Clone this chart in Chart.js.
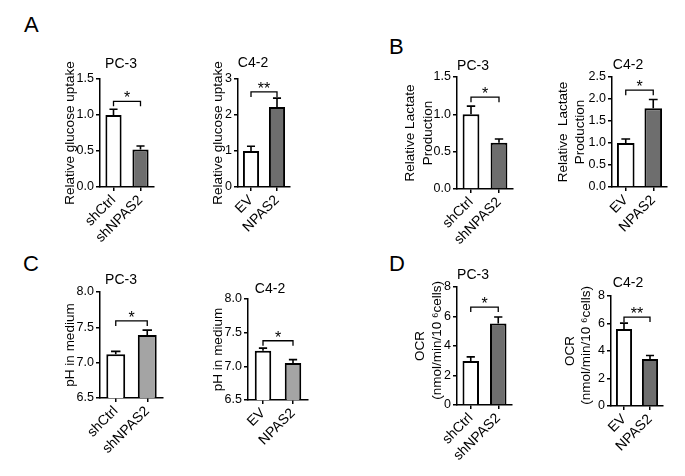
<!DOCTYPE html>
<html>
<head>
<title>NPAS2 metabolism panels</title>
<script src="https://cdn.jsdelivr.net/npm/chart.js"></script>
<style>
  body { margin: 0; background: #fff; width: 685px; height: 476px; position: relative; overflow: hidden;
         font-family: "Liberation Sans", Arial, sans-serif; }
  canvas { position: absolute; }
  .letter { position: absolute; font-size: 22px; line-height: 22px; color: #000; }
</style>
</head>
<body>
<div class="letter" style="left:24px;top:14px">A</div>
<div class="letter" style="left:389px;top:36px">B</div>
<div class="letter" style="left:23px;top:253px">C</div>
<div class="letter" style="left:389px;top:253px">D</div>
<script>
const pcGroups = ['shCtrl', 'shNPAS2'];
const c42Groups = ['EV', 'NPAS2'];

const glucosePC3 = [1.00, 0.52];
const glucosePC3Err = [0.08, 0.05];
const glucoseC42 = [1.00, 2.22];
const glucoseC42Err = [0.13, 0.25];
const lactatePC3 = [1.00, 0.62];
const lactatePC3Err = [0.11, 0.05];
const lactateC42 = [1.00, 1.79];
const lactateC42Err = [0.09, 0.20];
const phPC3 = [7.12, 7.39];
const phPC3Err = [0.04, 0.07];
const phC42 = [7.23, 7.05];
const phC42Err = [0.04, 0.05];
const ocrPC3 = [2.98, 5.52];
const ocrPC3Err = [0.28, 0.45];
const ocrC42 = [5.60, 3.42];
const ocrC42Err = [0.43, 0.25];

const ticksGlucosePC3 = ['0.0', '0.5', '1.0', '1.5'];
const ticksGlucoseC42 = ['0', '1', '2', '3'];
const ticksLactatePC3 = ['0.0', '0.5', '1.0', '1.5'];
const ticksLactateC42 = ['0.0', '0.5', '1.0', '1.5', '2.0', '2.5'];
const ticksPh = ['6.5', '7.0', '7.5', '8.0'];
const ticksOcr = ['0', '2', '4', '6', '8'];

// significance marks, panel order A1 A2 B1 B2 C1 C2 D1 D2
const sigStars = ['*', '**', '*', '*', '*', '*', '*', '**'];
const sigLevels = [1.19, 2.64, 1.23, 2.20, 7.59, 7.38, 6.64, 6.47];

const FONT = '"Liberation Sans", Arial, sans-serif';
const darkGray = '#6e6e6e';
const lightGray = '#a4a4a4';

const panels = [
  { labels: pcGroups, values: glucosePC3, errors: glucosePC3Err, ticks: ticksGlucosePC3, title: 'PC-3',
    yTitle: 'Relative glucose uptake', fill: darkGray,
    axisX: 100, axisEnd: 154, top: 79, bottom: 187, titleX: 121, titleY: 64, yTitleX: 70, lh: 16, barPct: 0.6 },
  { labels: c42Groups, values: glucoseC42, errors: glucoseC42Err, ticks: ticksGlucoseC42, title: 'C4-2',
    yTitle: 'Relative glucose uptake', fill: darkGray,
    axisX: 238, axisEnd: 290, top: 79, bottom: 187, titleX: 253, titleY: 63, yTitleX: 218, lh: 16, barPct: 0.62 },
  { labels: pcGroups, values: lactatePC3, errors: lactatePC3Err, ticks: ticksLactatePC3, title: 'PC-3',
    yTitle: ['Relative Lactate', 'Production'], fill: darkGray,
    axisX: 457, axisEnd: 513, top: 77, bottom: 189, titleX: 473, titleY: 66, yTitleX: 410, lh: 18, barPct: 0.6 },
  { labels: c42Groups, values: lactateC42, errors: lactateC42Err, ticks: ticksLactateC42, title: 'C4-2',
    yTitle: ['Relative  Lactate', 'Production'], fill: darkGray,
    axisX: 612, axisEnd: 667, top: 77, bottom: 187, titleX: 628, titleY: 65, yTitleX: 563, lh: 17, barPct: 0.64 },
  { labels: pcGroups, values: phPC3, errors: phPC3Err, ticks: ticksPh, title: 'PC-3',
    yTitle: 'pH in medium', fill: lightGray,
    axisX: 100, axisEnd: 163, top: 292, bottom: 398, titleX: 121, titleY: 280, yTitleX: 70, lh: 16, barPct: 0.6 },
  { labels: c42Groups, values: phC42, errors: phC42Err, ticks: ticksPh, title: 'C4-2',
    yTitle: 'pH in medium', fill: lightGray,
    axisX: 248, axisEnd: 308, top: 299, bottom: 400, titleX: 270, titleY: 289, yTitleX: 218, lh: 16, barPct: 0.55 },
  { labels: pcGroups, values: ocrPC3, errors: ocrPC3Err, ticks: ticksOcr, title: 'PC-3',
    yTitle: ['OCR', '   (nmol/min/10 \u2076cells)'], fill: darkGray,
    axisX: 457, axisEnd: 512, top: 287, bottom: 405, titleX: 473, titleY: 275, yTitleX: 420, lh: 17, barPct: 0.6 },
  { labels: c42Groups, values: ocrC42, errors: ocrC42Err, ticks: ticksOcr, title: 'C4-2',
    yTitle: ['OCR', '   (nmol/min/10 \u2076cells)'], fill: darkGray,
    axisX: 611, axisEnd: 663, top: 296, bottom: 406, titleX: 628, titleY: 283, yTitleX: 570, lh: 16, barPct: 0.62 }
];

// error bars (upper half only), significance bracket and small title
const extras = {
  id: 'panelExtras',
  afterDatasetsDraw(chart, args, o) {
    const ctx = chart.ctx;
    const y = chart.scales.y;
    const bars = chart.getDatasetMeta(0).data;
    ctx.save();
    ctx.strokeStyle = '#000';
    ctx.lineWidth = 1.6;
    bars.forEach((b, i) => {
      const yTop = y.getPixelForValue(o.values[i] + o.errors[i]);
      const cap = b.width * 0.25;
      ctx.beginPath();
      ctx.moveTo(b.x, b.y);
      ctx.lineTo(b.x, yTop);
      ctx.moveTo(b.x - cap, yTop);
      ctx.lineTo(b.x + cap, yTop);
      ctx.stroke();
    });
    const by = y.getPixelForValue(o.level);
    ctx.lineWidth = 1.3;
    ctx.beginPath();
    ctx.moveTo(bars[0].x, by + 5);
    ctx.lineTo(bars[0].x, by);
    ctx.lineTo(bars[1].x, by);
    ctx.lineTo(bars[1].x, by + 5);
    ctx.stroke();
    ctx.fillStyle = '#000';
    ctx.textAlign = 'center';
    ctx.textBaseline = 'alphabetic';
    ctx.font = '16px ' + FONT;
    ctx.fillText(o.stars, (bars[0].x + bars[1].x) / 2, by + 2);
    ctx.textBaseline = 'middle';
    ctx.font = '14px ' + FONT;
    ctx.fillText(o.title, o.tx, o.ty);
    ctx.restore();
  }
};

panels.forEach((p, i) => {
  const cv = document.createElement('canvas');
  const left = p.axisX - 70, top = p.top - 30;
  cv.width = p.axisEnd + 8 - left;
  cv.height = p.bottom - p.top + 90;
  cv.style.left = left + 'px';
  cv.style.top = top + 'px';
  document.body.appendChild(cv);
  const tickVals = p.ticks.map(Number);

  new Chart(cv, {
    type: 'bar',
    data: {
      labels: p.labels,
      datasets: [{
        data: p.values,
        backgroundColor: ['#ffffff', p.fill],
        borderColor: '#000',
        borderWidth: 2,
        barPercentage: p.barPct,
        categoryPercentage: 1
      }]
    },
    options: {
      responsive: false,
      animation: false,
      devicePixelRatio: 1,
      layout: { padding: { top: 30, right: 8, left: 0, bottom: 0 } },
      plugins: {
        legend: { display: false },
        tooltip: { enabled: false },
        panelExtras: {
          values: p.values, errors: p.errors, level: sigLevels[i], stars: sigStars[i],
          title: p.title, tx: p.titleX - left, ty: p.titleY - top
        }
      },
      scales: {
        x: {
          offset: true,
          grid: { display: true, offset: false, drawOnChartArea: false, tickLength: 4, color: '#000', lineWidth: 1.5 },
          border: { display: true, color: '#000', width: 1.5 },
          ticks: { color: '#000', font: { size: 14, family: FONT }, minRotation: 45, maxRotation: 45, autoSkip: false, padding: 1 },
          afterFit: s => { s.height = 60; }
        },
        y: {
          min: tickVals[0],
          max: tickVals[tickVals.length - 1],
          afterBuildTicks: s => { s.ticks = tickVals.map(v => ({ value: v })); },
          grid: { drawOnChartArea: false, tickLength: 4, color: '#000', lineWidth: 1.5 },
          border: { display: true, color: '#000', width: 1.5 },
          ticks: { color: '#000', font: { size: 12.5, family: FONT }, padding: 2, callback: (v, k) => p.ticks[k] },
          title: {
            display: true, text: p.yTitle, color: '#000',
            font: { size: 13.5, family: FONT, lineHeight: p.lh / 13.5 },
            padding: { top: p.yTitleX - left - p.lh / 2, bottom: 0 }
          },
          afterFit: s => { s.width = 70; }
        }
      }
    },
    plugins: [extras]
  });
});
</script>
</body>
</html>
